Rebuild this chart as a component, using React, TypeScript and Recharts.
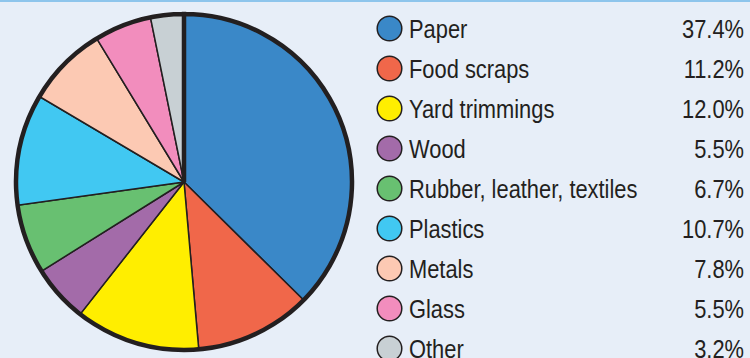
import React from "react";
import { PieChart, Pie, Cell, Customized } from "recharts";

const categories = [
  "Paper",
  "Food scraps",
  "Yard trimmings",
  "Wood",
  "Rubber, leather, textiles",
  "Plastics",
  "Metals",
  "Glass",
  "Other",
];
const shares = [37.4, 11.2, 12.0, 5.5, 6.7, 10.7, 7.8, 5.5, 3.2];
const valueLabels = ["37.4%", "11.2%", "12.0%", "5.5%", "6.7%", "10.7%", "7.8%", "5.5%", "3.2%"];
const colors = [
  "#3a88c8",
  "#f0674a",
  "#ffee00",
  "#a36ba9",
  "#68c071",
  "#41c8f2",
  "#fcc9b3",
  "#f28dbd",
  "#c8d0d4",
];

const data = categories.map((name, i) => ({ name, value: shares[i] }));
const ring = [{ name: "ring", value: 1 }];

const INK = "#231f20";
const FONT = "'Liberation Sans', Arial, sans-serif";
const SX = 0.875;

const LegendBlock = () => (
  <g>
    {categories.map((name, i) => {
      const cy = 26.5 + i * 40;
      return (
        <g key={name}>
          <circle cx={389.5} cy={cy} r={12.3} fill={colors[i]} stroke={INK} strokeWidth={1.5} />
          <text
            transform={`translate(409, ${cy + 9}) scale(${SX}, 1)`}
            fill={INK}
            fontSize={25}
            fontFamily={FONT}
          >
            {name}
          </text>
          <text
            transform={`translate(744, ${cy + 9}) scale(${SX}, 1)`}
            fill={INK}
            fontSize={25}
            fontFamily={FONT}
            textAnchor="end"
          >
            {valueLabels[i]}
          </text>
        </g>
      );
    })}
  </g>
);

export default function App() {
  return (
    <div
      style={{
        position: "absolute",
        left: 0,
        top: 0,
        width: 750,
        height: 358,
        background: "#e7eef8",
        borderTop: "2px solid #8ec5ec",
        boxSizing: "border-box",
        overflow: "hidden",
      }}
    >
      <PieChart width={750} height={356} margin={{ top: 0, right: 0, bottom: 0, left: 0 }}>
        <Pie
          data={data}
          dataKey="value"
          nameKey="name"
          cx={184}
          cy={180}
          outerRadius={168}
          startAngle={90}
          endAngle={-270}
          stroke={INK}
          strokeWidth={1.5}
          isAnimationActive={false}
        >
          {data.map((d, i) => (
            <Cell key={d.name} fill={colors[i]} />
          ))}
        </Pie>
        <Pie
          data={ring}
          dataKey="value"
          cx={184}
          cy={180}
          outerRadius={168}
          startAngle={90}
          endAngle={-270}
          fill="none"
          stroke={INK}
          strokeWidth={4.5}
          isAnimationActive={false}
        />
        <Customized component={LegendBlock} />
      </PieChart>
    </div>
  );
}
